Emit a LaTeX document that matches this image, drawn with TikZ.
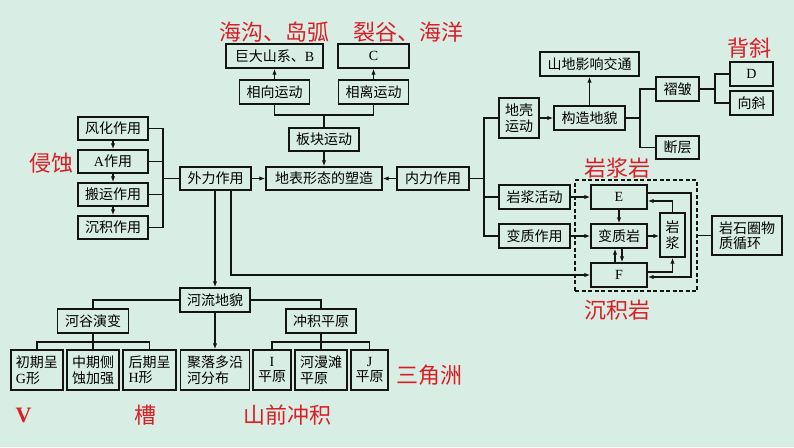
\documentclass[tikz,border=0pt]{standalone}
\usepackage{fontspec}
\setmainfont{Noto Sans CJK SC}
\newfontfamily\lat{Liberation Serif}
\usetikzlibrary{arrows.meta}
\definecolor{bg}{RGB}{216,237,228}
\definecolor{myred}{RGB}{218,30,38}
\definecolor{ink}{RGB}{20,20,20}
\begin{document}
\begin{tikzpicture}[x=1pt,y=-1pt,
  box/.style={draw=ink, line width=1.4pt, inner sep=0pt, align=center, font=\fontsize{14}{15.5}\selectfont},
  ln/.style={draw=ink, line width=1.4pt},
  arr/.style={ln, -{Latex[length=6pt,width=4.5pt]}},
  rtxt/.style={text=myred, inner sep=0pt, font=\fontsize{22}{24}\selectfont}]
\useasboundingbox[fill=bg] (0,0) rectangle (794,447);

% ---- top: plate motion
\node[box, minimum width=97pt, minimum height=24pt] (bigB) at (274.5,56) {巨大山系、{\lat B}};
\node[box, minimum width=71pt, minimum height=24pt] (C) at (373.5,56) {{\lat C}};
\node[box, minimum width=70pt, minimum height=24pt] (xx) at (274.5,92) {相向运动};
\node[box, minimum width=70pt, minimum height=24pt] (xl) at (373.5,92) {相离运动};
\node[box, minimum width=70pt, minimum height=23pt] (bk) at (324,139.5) {板块运动};
\node[box, minimum width=116pt, minimum height=23pt] (db) at (324,178.5) {地表形态的塑造};
\node[box, minimum width=71pt, minimum height=23pt] (wl) at (215.5,178.5) {外力作用};
\node[box, minimum width=72pt, minimum height=23pt] (nl) at (433,178.5) {内力作用};

% ---- left: exogenic processes
\node[box, minimum width=70pt, minimum height=23pt] (fh) at (113,128.5) {风化作用};
\node[box, minimum width=70pt, minimum height=23pt] (A) at (113,161.5) {{\lat A}作用};
\node[box, minimum width=70pt, minimum height=23pt] (by) at (113,194.5) {搬运作用};
\node[box, minimum width=70pt, minimum height=23pt] (cj) at (113,227.5) {沉积作用};

% ---- right: endogenic processes
\node[box, minimum width=40pt, minimum height=40pt] (dq) at (519,118) {地壳\\运动};
\node[box, minimum width=71pt, minimum height=24pt] (gz) at (589.5,118) {构造地貌};
\node[box, minimum width=99pt, minimum height=24pt] (sd) at (589.5,64) {山地影响交通};
\node[box, minimum width=43pt, minimum height=24pt] (zz) at (677.5,89) {褶皱};
\node[box, minimum width=43pt, minimum height=23pt] (dc) at (677.5,147.5) {断层};
\node[box, minimum width=43pt, minimum height=24pt] (D) at (751.5,74) {{\lat D}};
\node[box, minimum width=43pt, minimum height=24pt] (xxie) at (751.5,103) {向斜};
\node[box, minimum width=71pt, minimum height=24pt] (yjh) at (534.5,197) {岩浆活动};
\node[box, minimum width=71pt, minimum height=24pt] (bzz) at (534.5,236) {变质作用};

% ---- rock cycle
\node[draw=ink, line width=1.4pt, dash pattern=on 4pt off 2.5pt, minimum width=122pt, minimum height=111pt, inner sep=0pt] (dash) at (636,235.5) {};
\node[box, minimum width=56pt, minimum height=24pt] (E) at (619,197) {{\lat E}};
\node[box, minimum width=56pt, minimum height=24pt] (bzy) at (619,236) {变质岩};
\node[box, minimum width=56pt, minimum height=24pt] (F) at (619,275) {{\lat F}};
\node[box, minimum width=25pt, minimum height=44pt] (yj) at (672.5,235) {岩\\浆};
\node[box, minimum width=70pt, minimum height=39pt, align=left] (cyc) at (747,235.5) {岩石圈物\\质循环};

% ---- bottom: river landforms
\node[box, minimum width=70pt, minimum height=24pt] (hl) at (215,300) {河流地貌};
\node[box, minimum width=71pt, minimum height=24pt] (hg) at (93,321) {河谷演变};
\node[box, minimum width=70pt, minimum height=24pt] (cp) at (321,321) {冲积平原};
\node[box, minimum width=52pt, minimum height=40pt, align=left] (b1) at (37,370) {初期呈\\{\lat G}形};
\node[box, minimum width=52pt, minimum height=40pt] (b2) at (93,370) {中期侧\\蚀加强};
\node[box, minimum width=53pt, minimum height=40pt, align=left] (b3) at (149.5,370) {后期呈\\{\lat H}形};
\node[box, minimum width=69pt, minimum height=40pt, align=left] (b4) at (215,370) {聚落多沿\\河分布};
\node[box, minimum width=38pt, minimum height=40pt] (b5) at (272,370) {{\lat I}\\平原};
\node[box, minimum width=52pt, minimum height=40pt, align=left] (b6) at (321,370) {河漫滩\\平原};
\node[box, minimum width=37pt, minimum height=40pt] (b7) at (369.5,370) {{\lat J}\\平原};

% ---- coordinates
\coordinate (tj) at (324,115);
\coordinate (lbt) at (163,128.5);
\coordinate (lbb) at (163,227.5);
\coordinate (rbt) at (484,118);
\coordinate (rbb) at (484,236);
\coordinate (gzt) at (640,89);
\coordinate (gzb) at (640,147.5);
\coordinate (zzt) at (715,74);
\coordinate (zzb) at (715,103);
\coordinate (lp) at (691,235);
\coordinate (hgj) at (93,342);
\coordinate (cpj) at (321,342);

% ---- connectors: top
\draw[arr] (xx.north) -- (bigB.south);
\draw[arr] (xl.north) -- (C.south);
\draw[ln] (xx.south) |- (tj) -| (xl.south);
\draw[ln] (bk.north) -- (tj);
\draw[arr] (bk.south) -- (db.north);
\draw[arr] (wl.east) -- (db.west);
\draw[arr] (nl.west) -- (db.east);

% left bracket
\draw[arr] (fh.south) -- (A.north);
\draw[arr] (A.south) -- (by.north);
\draw[arr] (by.south) -- (cj.north);
\draw[ln] (fh.east) -- (lbt) -- (lbb) -- (cj.east);
\draw[ln] (A.east) -- (A.east -| lbt);
\draw[ln] (by.east) -- (by.east -| lbt);
\draw[ln] (wl.west) -- (wl.west -| lbt);

% right bracket
\draw[ln] (dq.west) -- (rbt) -- (rbb) -- (bzz.west);
\draw[ln] (nl.east) -- (nl.east -| rbt);
\draw[ln] (yjh.west) -- (yjh.west -| rbt);
\draw[arr] (dq.east) -- (gz.west);
\draw[arr] (gz.north) -- (sd.south);
\draw[ln] (zz.west) -- (gzt) -- (gzb) -- (dc.west);
\draw[ln] (gz.east) -- (gz.east -| gzt);
\draw[ln] (D.west) -- (zzt) -- (zzb) -- (xxie.west);
\draw[ln] (zz.east) -- (zz.east -| zzt);

% rock cycle
\draw[arr] (yjh.east) -- (E.west);
\draw[arr] (bzz.east) -- (bzy.west);
\draw[arr] ([xshift=15.5pt]wl.south) |- (F.west);
\draw[arr] (E.south) -- (bzy.north);
\draw[arr] (bzy.east) -- (bzy.east -| yj.west);
\draw[arr] ([xshift=-4pt]F.north) -- ([xshift=-4pt]bzy.south);
\draw[arr] ([xshift=3pt]bzy.south) -- ([xshift=3pt]F.north);
\draw[arr] (yj.north) |- ([yshift=-4pt]E.east);
\draw[arr] ([yshift=3pt]F.east) -| (yj.south);
\draw[arr] ([yshift=4pt]E.east) -| (lp) |- ([yshift=-2pt]F.east);
\draw[ln] (dash.east) -- (cyc.west);

% bottom
\draw[arr] (hl.north |- wl.south) -- (hl.north);
\draw[ln] (hl.west) -| (hg.north);
\draw[ln] (hl.east) -| (cp.north);
\draw[arr] (hl.south) -- (b4.north);
\draw[ln] (hg.south) -- (b2.north);
\draw[ln] (b1.north) |- (hgj) -| (b3.north);
\draw[ln] (cp.south) -- (b6.north);
\draw[ln] (b5.north) |- (cpj) -| (b7.north);

% ---- red annotations
\node[rtxt] (t1) at (274.5,32) {海沟、岛弧};
\node[rtxt] (t2) at (408.5,32) {裂谷、海洋};
\node[rtxt] (t3) at (749,48) {背斜};
\node[rtxt] (t4) at (51,163) {侵蚀};
\node[rtxt] (t5) at (617,168) {岩浆岩};
\node[rtxt] (t6) at (617,310) {沉积岩};
\node[rtxt] (t7) at (429.5,375) {三角洲};
\node[rtxt, font=\lat\bfseries\fontsize{22}{24}\selectfont] (t8) at (23.5,415) {V};
\node[rtxt] (t9) at (145,415) {槽};
\node[rtxt] (t10) at (287,415) {山前冲积};
\end{tikzpicture}
\end{document}
